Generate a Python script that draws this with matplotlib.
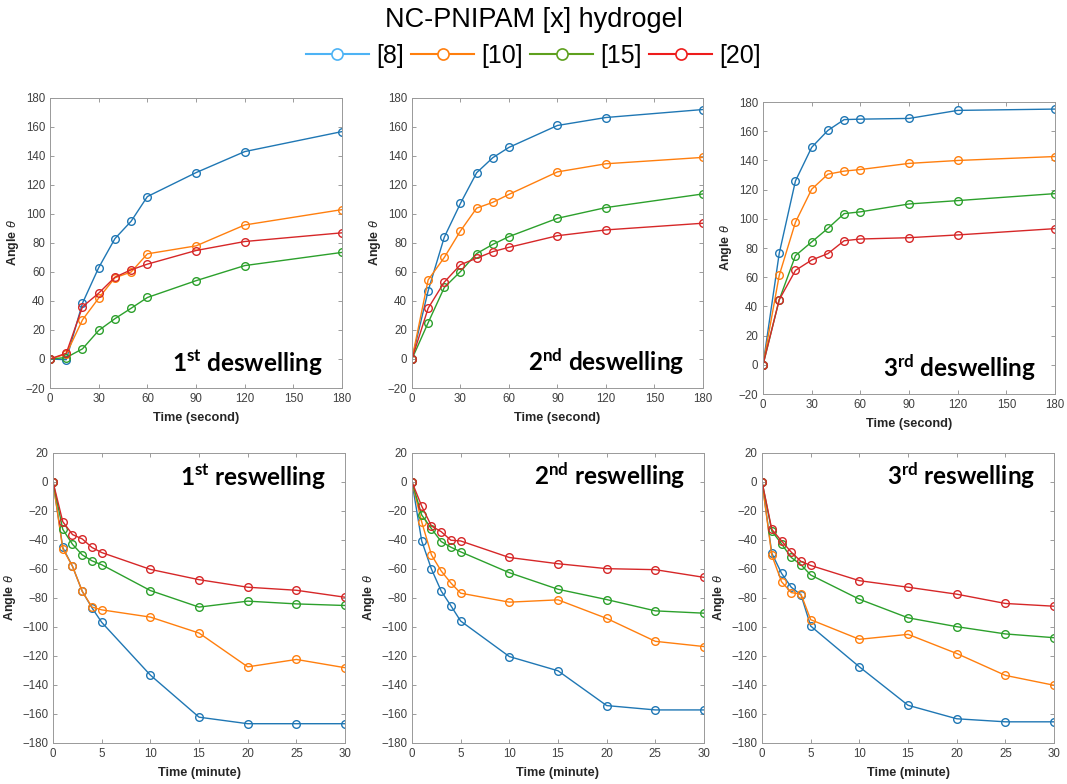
import numpy as np
import matplotlib
matplotlib.use('Agg')
import matplotlib.pyplot as plt
from matplotlib.lines import Line2D

plt.rcParams['font.family'] = ['Liberation Sans', 'DejaVu Sans']
plt.rcParams['mathtext.fontset'] = 'custom'
plt.rcParams['mathtext.bf'] = 'Lato:bold'
plt.rcParams['mathtext.it'] = 'Liberation Sans:italic'
plt.rcParams['mathtext.rm'] = 'Liberation Sans'

# time points
t_sec = [0, 10, 20, 30, 40, 50, 60, 90, 120, 180]
t_min = [0, 1, 2, 3, 4, 5, 10, 15, 20, 25, 30]

labels = ['[8]', '[10]', '[15]', '[20]']

# deswelling (angle vs seconds), order: [8], [10], [15], [20]
des1_8 = [0, -0.5, 38.5, 63, 83, 95, 112, 128.5, 143, 156.8]
des1_10 = [0, 3.4, 27, 42, 56, 60, 72.5, 78, 92.4, 103]
des1_15 = [0, 1, 7, 19.7, 27.8, 35, 42.4, 54, 64.4, 73.5]
des1_20 = [0, 4, 36, 45.4, 56.4, 61.5, 65.4, 74.8, 81, 87]

des2_8 = [0, 47, 84, 107.3, 128.4, 138.8, 145.9, 161, 166.5, 172]
des2_10 = [0, 54.5, 70, 88.3, 104, 108, 113.5, 129, 134.6, 139]
des2_15 = [0, 25, 49.3, 60.3, 72.7, 79, 84.4, 97, 104.4, 113.8]
des2_20 = [0, 35, 53, 65, 69.5, 74, 77, 85, 89, 93.6]

des3_8 = [0, 76.4, 126, 149, 160.6, 168, 168.3, 168.8, 174.3, 175.2]
des3_10 = [0, 61.3, 97.7, 120.3, 130.6, 132.7, 133.8, 138, 140, 142.7]
des3_15 = [0, 44.6, 74.8, 84.2, 93.5, 103.6, 104.8, 110.2, 112.5, 117.3]
des3_20 = [0, 44.6, 64.7, 71.8, 76.2, 85, 86.2, 87.1, 89, 93.3]

# reswelling (angle vs minutes)
res1_8 = [0, -45.2, -58.2, -75.4, -86.8, -96.8, -133.2, -162.2, -166.7, -166.7, -166.7]
res1_10 = [0, -46, -58.2, -75.4, -86.3, -88.2, -93.2, -104.2, -127.5, -122.4, -128.1]
res1_15 = [0, -32.7, -43, -50.3, -54.4, -57.1, -74.9, -86.3, -82.2, -84.1, -85.2]
res1_20 = [0, -27.4, -36.3, -39.3, -45.2, -48.7, -60.3, -67.4, -72.6, -74.7, -79.5]

res2_8 = [0, -40.7, -60.1, -75.2, -85.4, -95.9, -120.4, -130.2, -154.2, -157.2, -157.2]
res2_10 = [0, -27.6, -50.3, -61.4, -69.7, -76.7, -82.9, -81.3, -94.1, -109.9, -113.5]
res2_15 = [0, -22.8, -32.2, -41.1, -45, -48.2, -62.6, -74, -81.1, -88.9, -90.5]
res2_20 = [0, -16.7, -30.4, -34.3, -40.2, -40.7, -52.1, -56.4, -59.8, -60.5, -65.8]

res3_8 = [0, -49.1, -63, -72.6, -77.9, -99.4, -127.5, -154, -163.3, -165.4, -165.4]
res3_10 = [0, -50.5, -68.8, -76.3, -77.4, -95, -108.5, -105.1, -118.3, -133.4, -140.2]
res3_15 = [0, -33.8, -42.7, -52.1, -57.1, -64.2, -80.9, -93.7, -99.8, -104.8, -107.4]
res3_20 = [0, -32.7, -40.7, -48.4, -54.8, -57.6, -68.1, -72.6, -77.4, -83.8, -85.7]

colors = ['#1f77b4', '#ff7f0e', '#2ca02c', '#d62728']
legend_colors = ['#4db3f5', '#ff7f0e', '#5ea01e', '#ee1c1c']

fig = plt.figure(figsize=(10.67, 7.84), dpi=100)

# axes boxes (left, bottom, width, height) in figure fraction
boxes = [
    [0.0469, 0.5051, 0.2737, 0.3700],
    [0.3861, 0.5051, 0.2727, 0.3700],
    [0.7151, 0.4974, 0.2737, 0.3724],
    [0.0497, 0.0523, 0.2737, 0.3700],
    [0.3861, 0.0523, 0.2737, 0.3700],
    [0.7142, 0.0523, 0.2737, 0.3700],
]

panels = [
    (t_sec, [des1_8, des1_10, des1_15, des1_20], '1', 'st', 'deswelling'),
    (t_sec, [des2_8, des2_10, des2_15, des2_20], '2', 'nd', 'deswelling'),
    (t_sec, [des3_8, des3_10, des3_15, des3_20], '3', 'rd', 'deswelling'),
    (t_min, [res1_8, res1_10, res1_15, res1_20], '1', 'st', 'reswelling'),
    (t_min, [res2_8, res2_10, res2_15, res2_20], '2', 'nd', 'reswelling'),
    (t_min, [res3_8, res3_10, res3_15, res3_20], '3', 'rd', 'reswelling'),
]

for i, (t, series, num, suf, word) in enumerate(panels):
    ax = fig.add_axes(boxes[i])
    for y, c in zip(series, colors):
        ax.plot(t, y, '-o', color=c, lw=1.0, ms=5.5, mfc='none', mew=1.0)
    top = i < 3
    if top:
        ax.set_xlim(0, 180)
        ax.set_xticks(np.arange(0, 181, 30))
        ax.set_ylim(-20, 180)
        ax.set_yticks(np.arange(-20, 181, 20))
        ax.set_xlabel('Time (second)', fontweight='bold', fontsize=9.2, color='#262626', labelpad=5)
        ty = 0.06
    else:
        ax.set_xlim(0, 30)
        ax.set_xticks(np.arange(0, 31, 5))
        ax.set_ylim(-180, 20)
        ax.set_yticks(np.arange(-180, 21, 20))
        ax.set_xlabel('Time (minute)', fontweight='bold', fontsize=9.2, color='#262626', labelpad=5)
        ty = 0.89
    ax.set_ylabel(r'Angle $\theta$', fontweight='bold', fontsize=9, color='#262626', labelpad=3)
    ax.tick_params(direction='in', top=True, right=True, labelsize=8.3,
                   labelcolor='#404040', color='#8c8c8c', length=3, width=0.6)
    for s in ax.spines.values():
        s.set_color('#999999')
        s.set_linewidth(0.7)
    ax.text(0.935, ty, num + r'$^{\mathbf{' + suf + '}}$ ' + word, transform=ax.transAxes,
            ha='right', va='baseline', fontsize=17.5, fontweight='bold', family='Lato')

fig.text(0.5, 1 - 20 / 784, 'NC-PNIPAM [x] hydrogel', ha='center', va='center', fontsize=19.5)

handles = [Line2D([0], [0], color=c, lw=1.5, marker='o', ms=8, mfc='white', mew=1.2)
           for c in legend_colors]
leg = fig.legend(handles, labels, loc='center', bbox_to_anchor=(0.5, 1 - 56 / 784), ncol=4,
                 frameon=False, fontsize=18, handlelength=2.5, columnspacing=0.3,
                 handletextpad=0.3, borderpad=0.1)

fig.savefig('out.png', dpi=100)
